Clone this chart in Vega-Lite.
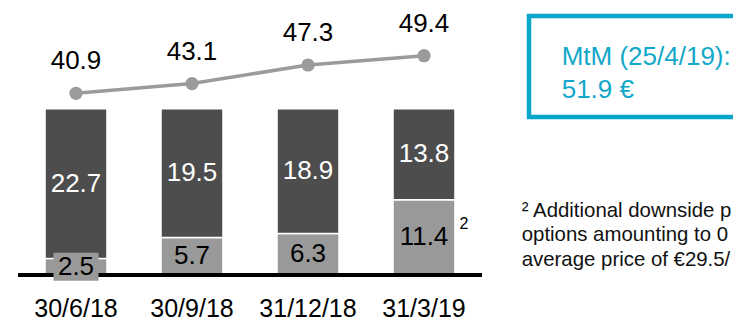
{
  "$schema": "https://vega.github.io/schema/vega-lite/v6.json",
  "width": 464,
  "height": 275,
  "padding": {"left": 18, "right": 251, "top": 0, "bottom": 46},
  "autosize": {"type": "none"},
  "background": "white",
  "config": {"view": {"stroke": null}, "font": "Liberation Sans"},
  "datasets": {
    "bars": [
      {"cat": "30/6/18", "seg": "light", "value": 2.5, "order": 1},
      {"cat": "30/6/18", "seg": "dark", "value": 22.7, "order": 2},
      {"cat": "30/9/18", "seg": "light", "value": 5.7, "order": 1},
      {"cat": "30/9/18", "seg": "dark", "value": 19.5, "order": 2},
      {"cat": "31/12/18", "seg": "light", "value": 6.3, "order": 1},
      {"cat": "31/12/18", "seg": "dark", "value": 18.9, "order": 2},
      {"cat": "31/3/19", "seg": "light", "value": 11.4, "order": 1},
      {"cat": "31/3/19", "seg": "dark", "value": 13.8, "order": 2}
    ],
    "price": [
      {"cat": "30/6/18", "price": 40.9},
      {"cat": "30/9/18", "price": 43.1},
      {"cat": "31/12/18", "price": 47.3},
      {"cat": "31/3/19", "price": 49.4}
    ]
  },
  "layer": [
    {
      "data": {"name": "bars"},
      "transform": [
        {"stack": "value", "groupby": ["cat"], "sort": [{"field": "order", "order": "ascending"}], "as": ["v0", "v1"]},
        {"calculate": "(datum.v0 + datum.v1) / 2", "as": "mid"}
      ],
      "layer": [
        {
          "mark": {"type": "bar", "stroke": "white", "strokeWidth": 1.5},
          "encoding": {
            "x": {
              "field": "cat", "type": "nominal", "sort": null, "title": null,
              "scale": {"paddingInner": 0.466, "paddingOuter": 0.233},
              "axis": {"title": null, "domain": false, "ticks": false, "tickSize": 0, "labelFontSize": 25, "labelColor": "black", "labelPadding": 41, "labelBaseline": "alphabetic", "labelAngle": 0, "labelFont": "Liberation Sans"}
            },
            "y": {"field": "v0", "type": "quantitative", "scale": {"domain": [0, 41.7], "nice": false, "zero": false}, "axis": null},
            "y2": {"field": "v1"},
            "color": {"field": "seg", "type": "nominal", "scale": {"domain": ["light", "dark"], "range": ["#999999", "#4d4d4d"]}, "legend": null}
          }
        },
        {
          "mark": {"type": "rule", "color": "black", "strokeWidth": 3},
          "encoding": {"y": {"datum": 0, "type": "quantitative"}}
        },
        {
          "transform": [{"filter": "datum.cat === '30/6/18' && datum.seg === 'light'"}],
          "mark": {"type": "point", "shape": "M-1,-0.62L1,-0.62L1,0.62L-1,0.62Z", "filled": true, "opacity": 1, "color": "#999999", "strokeWidth": 0},
          "encoding": {
            "x": {"field": "cat", "type": "nominal", "sort": null, "title": null},
            "y": {"field": "mid", "type": "quantitative"},
            "size": {"value": 2025}
          }
        },
        {
          "mark": {"type": "text", "fontSize": 26, "baseline": "middle", "font": "Liberation Sans"},
          "encoding": {
            "x": {"field": "cat", "type": "nominal", "sort": null, "title": null},
            "y": {"field": "mid", "type": "quantitative"},
            "text": {"field": "value", "type": "quantitative", "format": ".1f"},
            "color": {"condition": {"test": "datum.seg === 'dark'", "value": "white"}, "value": "black"}
          }
        },
        {
          "transform": [{"filter": "datum.cat === '31/3/19' && datum.seg === 'light'"}],
          "mark": {"type": "text", "text": "2", "fontSize": 16, "dx": 40, "baseline": "middle", "color": "black", "font": "Liberation Sans"},
          "encoding": {
            "x": {"field": "cat", "type": "nominal", "sort": null, "title": null},
            "y": {"datum": 7.7, "type": "quantitative"}
          }
        }
      ]
    },
    {
      "data": {"name": "price"},
      "layer": [
        {
          "mark": {"type": "line", "color": "#9b9b9b", "strokeWidth": 3.5},
          "encoding": {
            "x": {"field": "cat", "type": "nominal", "sort": null, "title": null},
            "y": {"field": "price", "type": "quantitative", "scale": {"domain": [-0.2, 62], "nice": false, "zero": false}, "axis": null}
          }
        },
        {
          "mark": {"type": "point", "filled": true, "opacity": 1, "color": "#9b9b9b", "size": 175},
          "encoding": {
            "x": {"field": "cat", "type": "nominal", "sort": null, "title": null},
            "y": {"field": "price", "type": "quantitative"}
          }
        },
        {
          "mark": {"type": "text", "fontSize": 26, "baseline": "alphabetic", "dy": -24, "color": "black", "font": "Liberation Sans"},
          "encoding": {
            "x": {"field": "cat", "type": "nominal", "sort": null, "title": null},
            "y": {"field": "price", "type": "quantitative"},
            "text": {"field": "price", "type": "quantitative", "format": ".1f"}
          }
        }
      ]
    },
    {
      "data": {"values": [{"note": "MtM"}]},
      "mark": {"type": "rect", "fill": null, "filled": false, "stroke": "#0aa6c9", "strokeWidth": 4.5},
      "encoding": {"x": {"value": 511}, "x2": {"value": 742}, "y": {"value": 16}, "y2": {"value": 117}}
    },
    {
      "data": {"values": [{"note": "MtM"}]},
      "mark": {"type": "text", "text": ["MtM (25/4/19):", "51.9 €"], "align": "left", "baseline": "alphabetic", "fontSize": 26, "lineHeight": 32.5, "color": "#12a8ca", "font": "Liberation Sans"},
      "encoding": {"x": {"value": 543.7}, "y": {"value": 65}}
    },
    {
      "data": {"values": [{"note": "footnote"}]},
      "mark": {"type": "text", "text": ["² Additional downside p", "options amounting to 0", "average price of €29.5/"], "align": "left", "baseline": "alphabetic", "fontSize": 20.4, "lineHeight": 24.7, "color": "#111111", "font": "Liberation Sans"},
      "encoding": {"x": {"value": 503.7}, "y": {"value": 216.7}}
    }
  ],
  "resolve": {"scale": {"y": "independent"}}
}
